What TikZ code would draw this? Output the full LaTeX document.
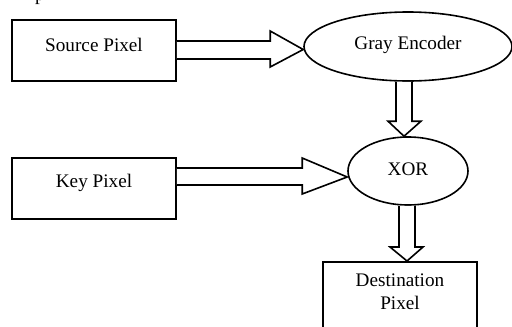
\documentclass[tikz,border=0pt]{standalone}
\usepackage{fontspec}
\setmainfont{Liberation Serif}
\usetikzlibrary{shapes.geometric,calc}

\tikzset{
  stage/.style={draw, line width=1.6pt, rectangle, inner sep=0pt},
  oval/.style={draw, line width=1.6pt, ellipse, inner sep=0pt},
  fat/.style={draw, line width=1.6pt, line join=miter, fill=white},
  txt/.style={font=\fontsize{19.2}{23}\selectfont, align=center, inner sep=0pt},
}

\begin{document}
\begin{tikzpicture}[x=1pt, y=-1pt]
  \useasboundingbox (0,0) rectangle (512,327);

  % tail of a heading line above the figure
  \node[txt, anchor=base west] (head) at (35,0.8) {p};

  % blocks
  \node[stage, minimum width=164pt, minimum height=61pt,
        label={[txt, yshift=6pt]center:Source Pixel}] (src) at (94,50.5) {};
  \node[stage, minimum width=164pt, minimum height=61pt,
        label={[txt, yshift=6pt]center:Key Pixel}] (key) at (94,188.5) {};
  \node[oval, minimum width=208pt, minimum height=69pt,
        label={[txt, yshift=2pt]center:Gray Encoder}] (gray) at (408,46.5) {};
  \node[oval, minimum width=120pt, minimum height=68pt,
        label={[txt, yshift=2pt]center:XOR}] (xor) at (408,171) {};
  \node[stage, minimum width=154pt, minimum height=80pt, anchor=north] (dst) at (400,261) {};
  \node[txt, anchor=north] (dsttxt) at ($(dst.north)+(0,13)$) {Destination\\Pixel};

  % block arrows (let-coordinates are canvas points, y pointing up)
  % Source Pixel -> Gray Encoder
  \path[fat] let \p1=(src.east), \p2=(gray.west) in
    (\x1,\y1+9.5) -- (\x2-33,\y1+9.5) -- (\x2-33,\y1+19.5) -- (\x2,\y1+1)
    -- (\x2-33,\y1-16.5) -- (\x2-33,\y1-8.5) -- (\x1,\y1-8.5);
  % Key Pixel -> XOR
  \path[fat] let \p1=(key.east), \p2=(xor.west) in
    (\x1,\y1+20.5) -- (\x2-45,\y1+20.5) -- (\x2-45,\y1+30.5) -- (\x2,\y1+11.5)
    -- (\x2-45,\y1-5.5) -- (\x2-45,\y1+3.5) -- (\x1,\y1+3.5);
  % Gray Encoder -> XOR
  \path[fat] let \p1=(gray.south), \p2=(xor.north) in
    (\x1-12,\y1) -- (\x1-12,\y2+15) -- (\x1-20,\y2+15) -- (\x1-4,\y2)
    -- (\x1+13,\y2+15) -- (\x1+4,\y2+15) -- (\x1+4,\y1);
  % XOR -> Destination Pixel
  \path[fat] let \p1=(xor.south), \p2=(dst.north) in
    (\x1-9,\y1) -- (\x1-9,\y2+14) -- (\x1-18,\y2+14) -- (\x1-1,\y2)
    -- (\x1+15,\y2+14) -- (\x1+7,\y2+14) -- (\x1+7,\y1);
\end{tikzpicture}
\end{document}
